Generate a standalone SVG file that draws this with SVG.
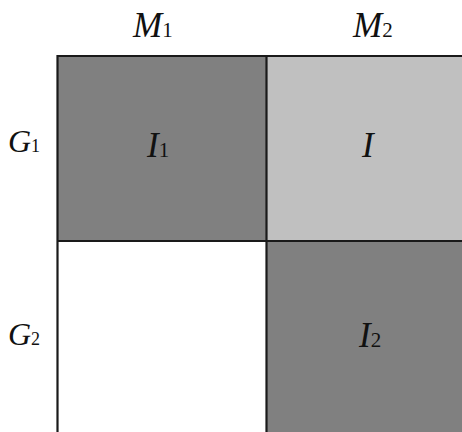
<svg xmlns="http://www.w3.org/2000/svg" width="462" height="432" viewBox="0 0 462 432">
<style>
.lab{font-family:"Liberation Serif","Times New Roman",serif;fill:#111}
.it{font-style:italic;font-size:35px}
.sub{font-style:normal;font-size:21px}
.dark{fill:#808080}
.light{fill:#c0c0c0}
.white{fill:#ffffff}
.grid{stroke:#1a1a1a;stroke-width:2.2;fill:none}
</style>
<rect width="462" height="432" fill="#ffffff"/>
<g id="cell-G1-M1"><rect class="dark" x="57.5" y="56" width="209" height="185"/><text class="lab" x="147" y="157"><tspan class="it">I</tspan><tspan class="sub">1</tspan></text></g>
<g id="cell-G1-M2"><rect class="light" x="266.5" y="56" width="196" height="185"/><text class="lab" x="362" y="157"><tspan class="it">I</tspan></text></g>
<g id="cell-G2-M1"><rect class="white" x="57.5" y="241" width="209" height="192"/></g>
<g id="cell-G2-M2"><rect class="dark" x="266.5" y="241" width="196" height="192"/><text class="lab" x="359" y="347"><tspan class="it">I</tspan><tspan class="sub">2</tspan></text></g>
<g id="header-M1"><text class="lab" x="133" y="37"><tspan class="it">M</tspan><tspan class="sub">1</tspan></text></g>
<g id="header-M2"><text class="lab" x="353" y="37"><tspan class="it">M</tspan><tspan class="sub">2</tspan></text></g>
<g id="header-G1"><text class="lab" x="8" y="152"><tspan class="it" style="font-size:32px">G</tspan><tspan class="sub" style="font-size:18px">1</tspan></text></g>
<g id="header-G2"><text class="lab" x="8" y="345"><tspan class="it" style="font-size:32px">G</tspan><tspan class="sub" style="font-size:18px">2</tspan></text></g>
<g id="connectors">
<path class="grid" d="M57.5 434 V56 H464"/>
<path class="grid" d="M266.5 56 V434"/>
<path class="grid" d="M57.5 241 H464"/>
</g>
</svg>
